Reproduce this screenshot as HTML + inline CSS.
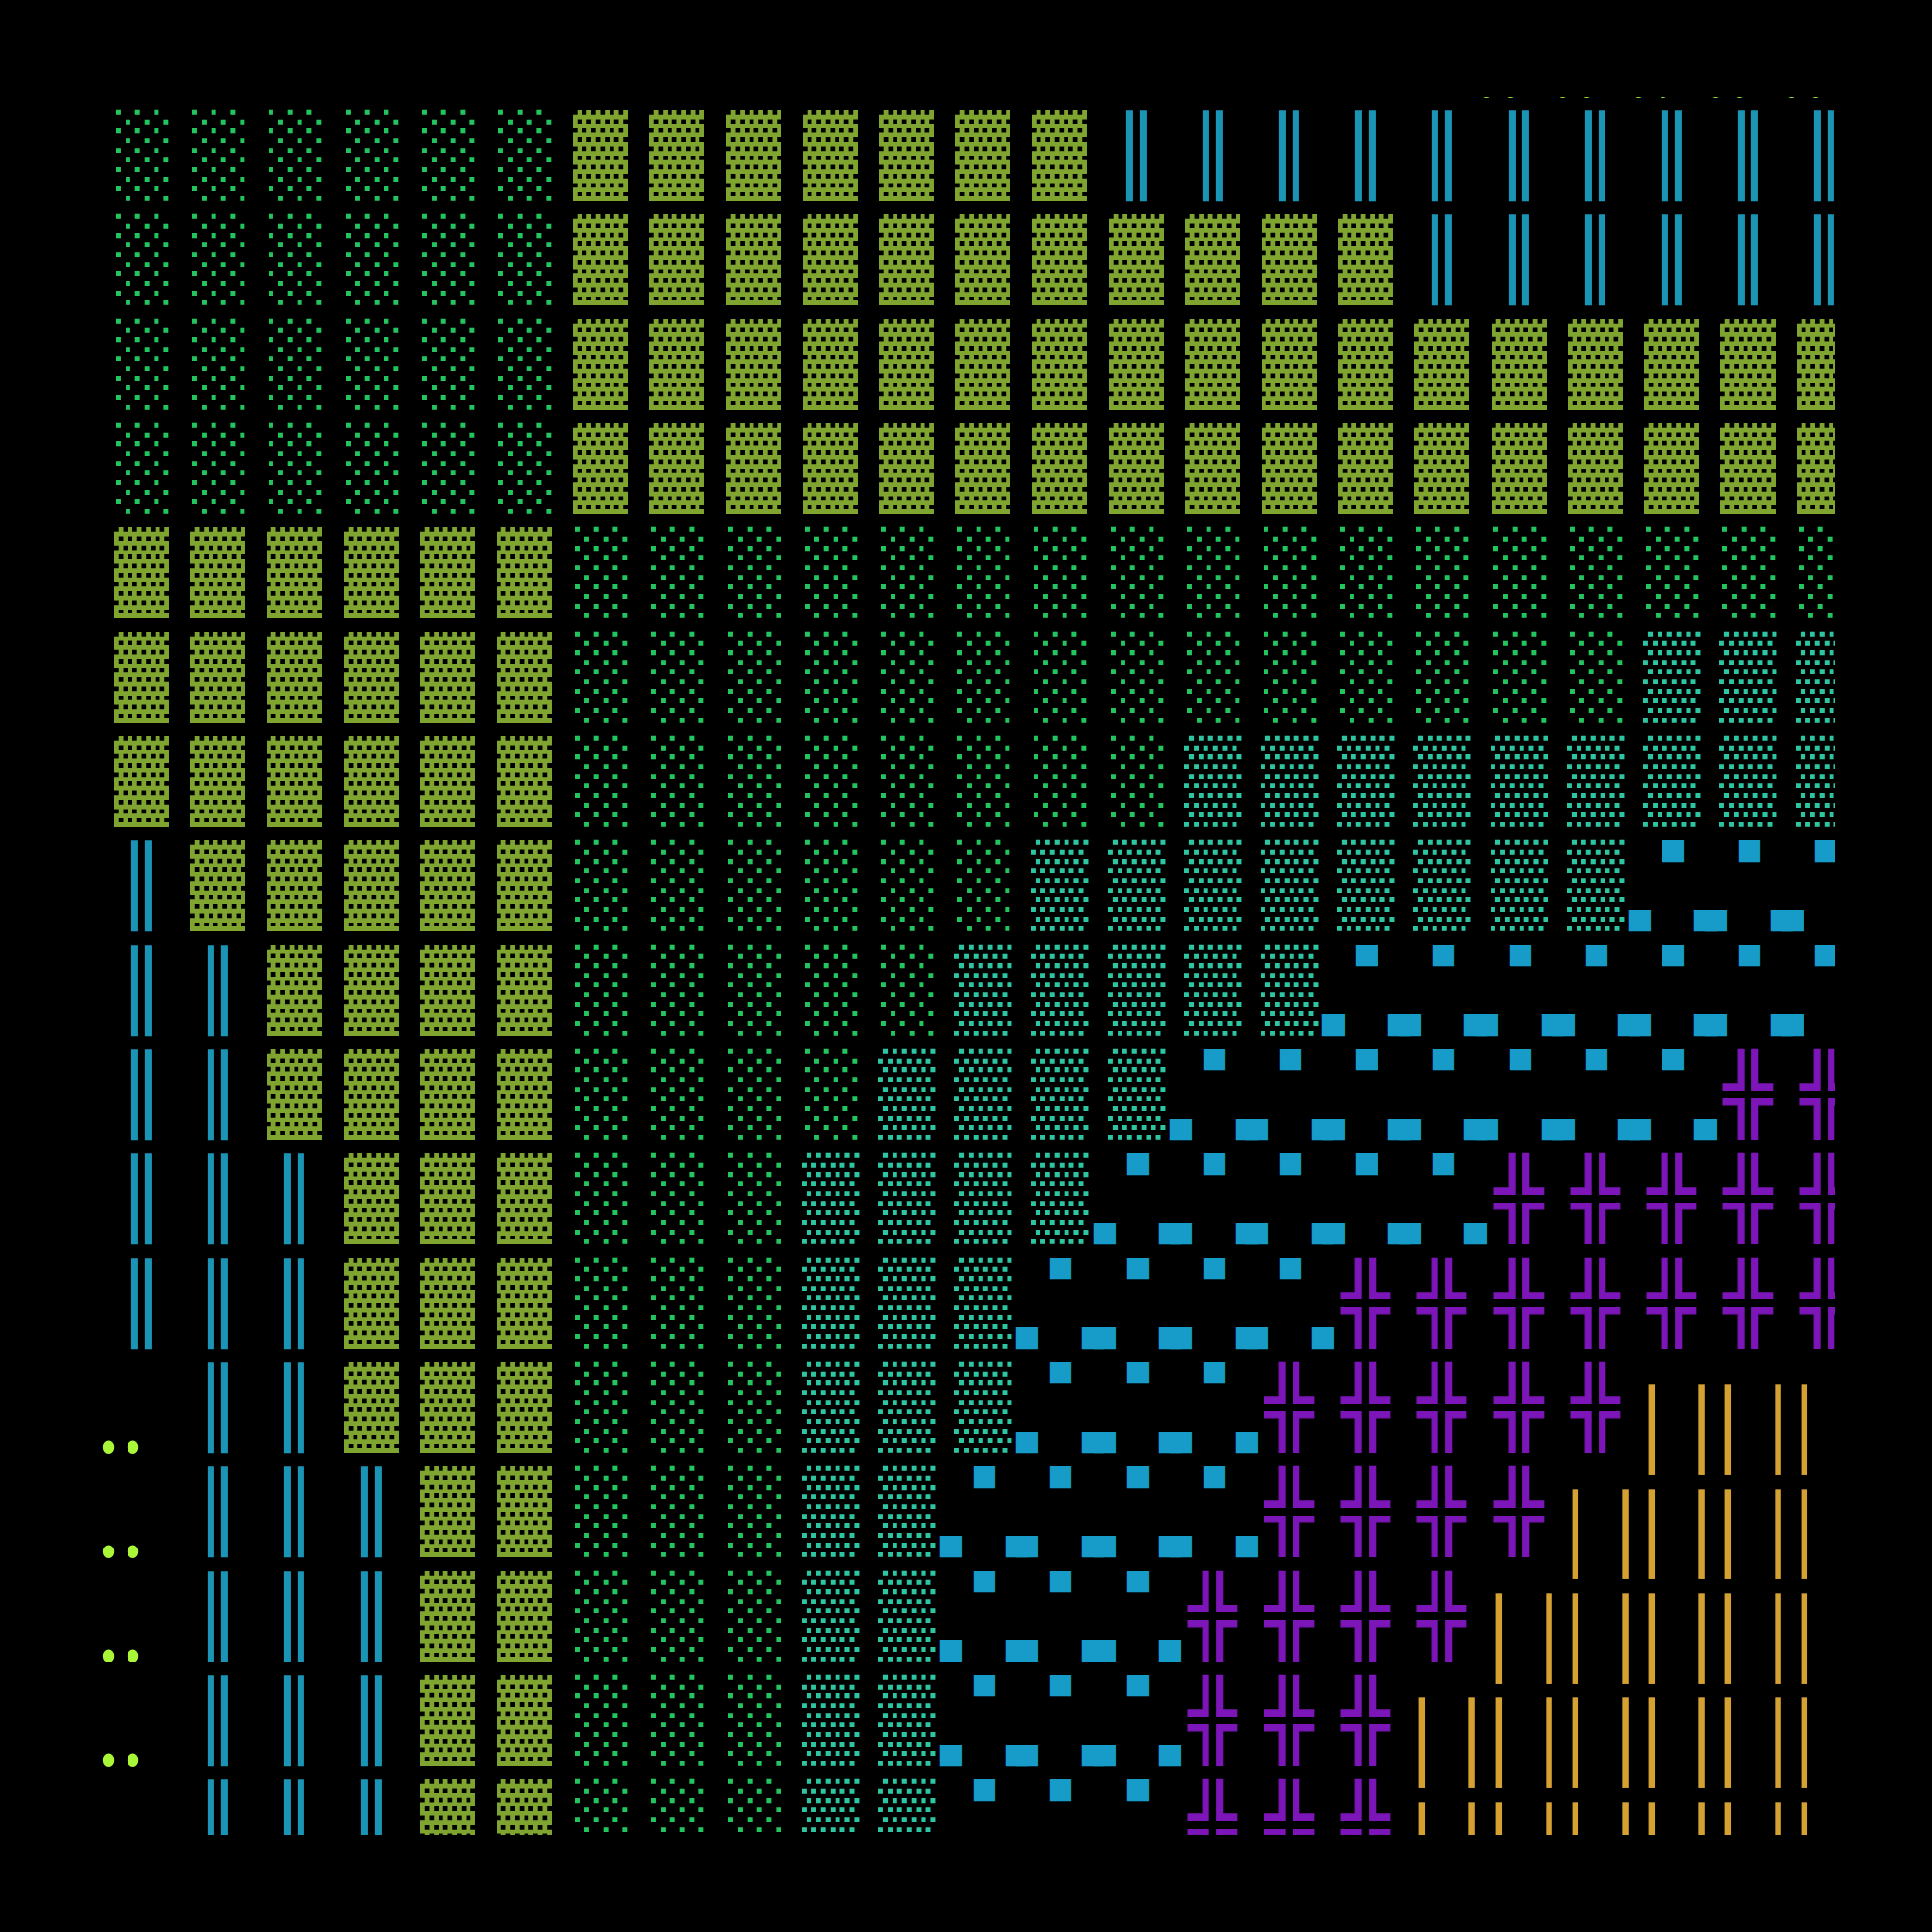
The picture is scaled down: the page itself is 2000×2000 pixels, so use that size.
<!DOCTYPE html>
<html lang="en"><head><meta charset="utf-8"><title>Glyph field</title>
<style>
html,body{margin:0;padding:0;background:#000;width:2000px;height:2000px;overflow:hidden}
#f{position:absolute;left:100px;top:100px;width:1800px;height:1800px;overflow:hidden;background:#000}
#f i{position:absolute;left:0;top:0;display:block;font-style:normal;font-weight:400;line-height:1;white-space:pre;transform-origin:0 0;}
.L{font-family:'Liberation Mono',monospace;font-size:99px;color:#22c55e;transform:translate(var(--x),var(--y)) scale(0.9945,1.0608);clip-path:inset(-10px -2px 15.3px -2px);}
.M{font-family:'Liberation Mono',monospace;font-size:99px;color:#2dc5a2;transform:translate(var(--x),var(--y)) scale(0.9966,1.0608);clip-path:inset(-10px -2px 15.3px -2px);}
.D{font-family:'Liberation Mono',monospace;font-size:99px;color:#7fa530;transform:translate(var(--x),var(--y)) scale(0.9580,1.0070);clip-path:inset(-10px -2px 13.15px -2px);}
.V{font-family:'Liberation Mono',monospace;font-size:79.64px;color:#1b95b5;transform:translate(var(--x),var(--y)) scale(1.0000,1.0251);-webkit-text-stroke:1.361px #1b95b5;text-rendering:geometricPrecision;}
.X{font-family:'Liberation Mono',monospace;font-size:79.3px;color:#7c16b8;transform:translate(var(--x),var(--y)) scale(1.0465,1.1150);-webkit-text-stroke:1.2px #7c16b8;clip-path:inset(-20px -20px 1.43px -20px);text-rendering:geometricPrecision;}
.G{font-family:'Liberation Mono',monospace;font-size:91.1px;color:#d4a132;transform:translate(var(--x),var(--y)) scale(0.9983,0.9075);letter-spacing:-2.76px;}
.Y{font-family:'Liberation Serif',serif;font-size:96.5px;color:#aaf73a;transform:translate(var(--x),var(--y)) scale(0.9973,1.1911);letter-spacing:0.9px;}
.q1{font-family:'Liberation Mono',monospace;font-size:46.3px;color:#179bc8;transform:translate(var(--x),var(--y)) scale(0.9888,0.9956);}
.q2{font-family:'Liberation Mono',monospace;font-size:46.3px;color:#179bc8;transform:translate(var(--x),var(--y)) scale(1.0337,0.9911);}
.q3{font-family:'Liberation Mono',monospace;font-size:46.3px;color:#179bc8;transform:translate(var(--x),var(--y)) scale(1.0337,0.9911);}
</style></head><body><div id="f">
<i class="Y" style="--x:1426.57px;--y:-96.33px">..</i>
<i class="Y" style="--x:1505.57px;--y:-96.33px">..</i>
<i class="Y" style="--x:1584.57px;--y:-96.33px">..</i>
<i class="Y" style="--x:1663.57px;--y:-96.33px">..</i>
<i class="Y" style="--x:1742.57px;--y:-96.33px">..</i>
<i class="L" style="--x:20.00px;--y:21.46px">░</i>
<i class="L" style="--x:99.00px;--y:21.46px">░</i>
<i class="L" style="--x:178.00px;--y:21.46px">░</i>
<i class="L" style="--x:258.00px;--y:21.46px">░</i>
<i class="L" style="--x:337.00px;--y:21.46px">░</i>
<i class="L" style="--x:416.00px;--y:21.46px">░</i>
<i class="D" style="--x:493.00px;--y:21.60px">▓</i>
<i class="D" style="--x:572.00px;--y:21.60px">▓</i>
<i class="D" style="--x:652.00px;--y:21.60px">▓</i>
<i class="D" style="--x:731.00px;--y:21.60px">▓</i>
<i class="D" style="--x:810.00px;--y:21.60px">▓</i>
<i class="D" style="--x:889.00px;--y:21.60px">▓</i>
<i class="D" style="--x:968.00px;--y:21.60px">▓</i>
<i class="V" style="--x:1052.50px;--y:21.48px">║</i>
<i class="V" style="--x:1131.50px;--y:21.48px">║</i>
<i class="V" style="--x:1210.50px;--y:21.48px">║</i>
<i class="V" style="--x:1289.50px;--y:21.48px">║</i>
<i class="V" style="--x:1368.50px;--y:21.48px">║</i>
<i class="V" style="--x:1448.50px;--y:21.48px">║</i>
<i class="V" style="--x:1527.50px;--y:21.48px">║</i>
<i class="V" style="--x:1606.50px;--y:21.48px">║</i>
<i class="V" style="--x:1685.50px;--y:21.48px">║</i>
<i class="V" style="--x:1764.50px;--y:21.48px">║</i>
<i class="L" style="--x:20.00px;--y:129.46px">░</i>
<i class="L" style="--x:99.00px;--y:129.46px">░</i>
<i class="L" style="--x:178.00px;--y:129.46px">░</i>
<i class="L" style="--x:258.00px;--y:129.46px">░</i>
<i class="L" style="--x:337.00px;--y:129.46px">░</i>
<i class="L" style="--x:416.00px;--y:129.46px">░</i>
<i class="D" style="--x:493.00px;--y:129.60px">▓</i>
<i class="D" style="--x:572.00px;--y:129.60px">▓</i>
<i class="D" style="--x:652.00px;--y:129.60px">▓</i>
<i class="D" style="--x:731.00px;--y:129.60px">▓</i>
<i class="D" style="--x:810.00px;--y:129.60px">▓</i>
<i class="D" style="--x:889.00px;--y:129.60px">▓</i>
<i class="D" style="--x:968.00px;--y:129.60px">▓</i>
<i class="D" style="--x:1048.00px;--y:129.60px">▓</i>
<i class="D" style="--x:1127.00px;--y:129.60px">▓</i>
<i class="D" style="--x:1206.00px;--y:129.60px">▓</i>
<i class="D" style="--x:1285.00px;--y:129.60px">▓</i>
<i class="V" style="--x:1368.50px;--y:129.48px">║</i>
<i class="V" style="--x:1448.50px;--y:129.48px">║</i>
<i class="V" style="--x:1527.50px;--y:129.48px">║</i>
<i class="V" style="--x:1606.50px;--y:129.48px">║</i>
<i class="V" style="--x:1685.50px;--y:129.48px">║</i>
<i class="V" style="--x:1764.50px;--y:129.48px">║</i>
<i class="L" style="--x:20.00px;--y:237.46px">░</i>
<i class="L" style="--x:99.00px;--y:237.46px">░</i>
<i class="L" style="--x:178.00px;--y:237.46px">░</i>
<i class="L" style="--x:258.00px;--y:237.46px">░</i>
<i class="L" style="--x:337.00px;--y:237.46px">░</i>
<i class="L" style="--x:416.00px;--y:237.46px">░</i>
<i class="D" style="--x:493.00px;--y:237.60px">▓</i>
<i class="D" style="--x:572.00px;--y:237.60px">▓</i>
<i class="D" style="--x:652.00px;--y:237.60px">▓</i>
<i class="D" style="--x:731.00px;--y:237.60px">▓</i>
<i class="D" style="--x:810.00px;--y:237.60px">▓</i>
<i class="D" style="--x:889.00px;--y:237.60px">▓</i>
<i class="D" style="--x:968.00px;--y:237.60px">▓</i>
<i class="D" style="--x:1048.00px;--y:237.60px">▓</i>
<i class="D" style="--x:1127.00px;--y:237.60px">▓</i>
<i class="D" style="--x:1206.00px;--y:237.60px">▓</i>
<i class="D" style="--x:1285.00px;--y:237.60px">▓</i>
<i class="D" style="--x:1364.00px;--y:237.60px">▓</i>
<i class="D" style="--x:1444.00px;--y:237.60px">▓</i>
<i class="D" style="--x:1523.00px;--y:237.60px">▓</i>
<i class="D" style="--x:1602.00px;--y:237.60px">▓</i>
<i class="D" style="--x:1681.00px;--y:237.60px">▓</i>
<i class="D" style="--x:1760.00px;--y:237.60px">▓</i>
<i class="L" style="--x:20.00px;--y:345.46px">░</i>
<i class="L" style="--x:99.00px;--y:345.46px">░</i>
<i class="L" style="--x:178.00px;--y:345.46px">░</i>
<i class="L" style="--x:258.00px;--y:345.46px">░</i>
<i class="L" style="--x:337.00px;--y:345.46px">░</i>
<i class="L" style="--x:416.00px;--y:345.46px">░</i>
<i class="D" style="--x:493.00px;--y:345.60px">▓</i>
<i class="D" style="--x:572.00px;--y:345.60px">▓</i>
<i class="D" style="--x:652.00px;--y:345.60px">▓</i>
<i class="D" style="--x:731.00px;--y:345.60px">▓</i>
<i class="D" style="--x:810.00px;--y:345.60px">▓</i>
<i class="D" style="--x:889.00px;--y:345.60px">▓</i>
<i class="D" style="--x:968.00px;--y:345.60px">▓</i>
<i class="D" style="--x:1048.00px;--y:345.60px">▓</i>
<i class="D" style="--x:1127.00px;--y:345.60px">▓</i>
<i class="D" style="--x:1206.00px;--y:345.60px">▓</i>
<i class="D" style="--x:1285.00px;--y:345.60px">▓</i>
<i class="D" style="--x:1364.00px;--y:345.60px">▓</i>
<i class="D" style="--x:1444.00px;--y:345.60px">▓</i>
<i class="D" style="--x:1523.00px;--y:345.60px">▓</i>
<i class="D" style="--x:1602.00px;--y:345.60px">▓</i>
<i class="D" style="--x:1681.00px;--y:345.60px">▓</i>
<i class="D" style="--x:1760.00px;--y:345.60px">▓</i>
<i class="D" style="--x:18.00px;--y:453.60px">▓</i>
<i class="D" style="--x:97.00px;--y:453.60px">▓</i>
<i class="D" style="--x:176.00px;--y:453.60px">▓</i>
<i class="D" style="--x:256.00px;--y:453.60px">▓</i>
<i class="D" style="--x:335.00px;--y:453.60px">▓</i>
<i class="D" style="--x:414.00px;--y:453.60px">▓</i>
<i class="L" style="--x:495.00px;--y:453.46px">░</i>
<i class="L" style="--x:574.00px;--y:453.46px">░</i>
<i class="L" style="--x:654.00px;--y:453.46px">░</i>
<i class="L" style="--x:733.00px;--y:453.46px">░</i>
<i class="L" style="--x:812.00px;--y:453.46px">░</i>
<i class="L" style="--x:891.00px;--y:453.46px">░</i>
<i class="L" style="--x:970.00px;--y:453.46px">░</i>
<i class="L" style="--x:1050.00px;--y:453.46px">░</i>
<i class="L" style="--x:1129.00px;--y:453.46px">░</i>
<i class="L" style="--x:1208.00px;--y:453.46px">░</i>
<i class="L" style="--x:1287.00px;--y:453.46px">░</i>
<i class="L" style="--x:1366.00px;--y:453.46px">░</i>
<i class="L" style="--x:1446.00px;--y:453.46px">░</i>
<i class="L" style="--x:1525.00px;--y:453.46px">░</i>
<i class="L" style="--x:1604.00px;--y:453.46px">░</i>
<i class="L" style="--x:1683.00px;--y:453.46px">░</i>
<i class="L" style="--x:1762.00px;--y:453.46px">░</i>
<i class="D" style="--x:18.00px;--y:561.60px">▓</i>
<i class="D" style="--x:97.00px;--y:561.60px">▓</i>
<i class="D" style="--x:176.00px;--y:561.60px">▓</i>
<i class="D" style="--x:256.00px;--y:561.60px">▓</i>
<i class="D" style="--x:335.00px;--y:561.60px">▓</i>
<i class="D" style="--x:414.00px;--y:561.60px">▓</i>
<i class="L" style="--x:495.00px;--y:561.46px">░</i>
<i class="L" style="--x:574.00px;--y:561.46px">░</i>
<i class="L" style="--x:654.00px;--y:561.46px">░</i>
<i class="L" style="--x:733.00px;--y:561.46px">░</i>
<i class="L" style="--x:812.00px;--y:561.46px">░</i>
<i class="L" style="--x:891.00px;--y:561.46px">░</i>
<i class="L" style="--x:970.00px;--y:561.46px">░</i>
<i class="L" style="--x:1050.00px;--y:561.46px">░</i>
<i class="L" style="--x:1129.00px;--y:561.46px">░</i>
<i class="L" style="--x:1208.00px;--y:561.46px">░</i>
<i class="L" style="--x:1287.00px;--y:561.46px">░</i>
<i class="L" style="--x:1366.00px;--y:561.46px">░</i>
<i class="L" style="--x:1446.00px;--y:561.46px">░</i>
<i class="L" style="--x:1525.00px;--y:561.46px">░</i>
<i class="M" style="--x:1601.00px;--y:561.56px">▒</i>
<i class="M" style="--x:1680.00px;--y:561.56px">▒</i>
<i class="M" style="--x:1759.00px;--y:561.56px">▒</i>
<i class="D" style="--x:18.00px;--y:669.60px">▓</i>
<i class="D" style="--x:97.00px;--y:669.60px">▓</i>
<i class="D" style="--x:176.00px;--y:669.60px">▓</i>
<i class="D" style="--x:256.00px;--y:669.60px">▓</i>
<i class="D" style="--x:335.00px;--y:669.60px">▓</i>
<i class="D" style="--x:414.00px;--y:669.60px">▓</i>
<i class="L" style="--x:495.00px;--y:669.46px">░</i>
<i class="L" style="--x:574.00px;--y:669.46px">░</i>
<i class="L" style="--x:654.00px;--y:669.46px">░</i>
<i class="L" style="--x:733.00px;--y:669.46px">░</i>
<i class="L" style="--x:812.00px;--y:669.46px">░</i>
<i class="L" style="--x:891.00px;--y:669.46px">░</i>
<i class="L" style="--x:970.00px;--y:669.46px">░</i>
<i class="L" style="--x:1050.00px;--y:669.46px">░</i>
<i class="M" style="--x:1126.00px;--y:669.56px">▒</i>
<i class="M" style="--x:1205.00px;--y:669.56px">▒</i>
<i class="M" style="--x:1284.00px;--y:669.56px">▒</i>
<i class="M" style="--x:1363.00px;--y:669.56px">▒</i>
<i class="M" style="--x:1443.00px;--y:669.56px">▒</i>
<i class="M" style="--x:1522.00px;--y:669.56px">▒</i>
<i class="M" style="--x:1601.00px;--y:669.56px">▒</i>
<i class="M" style="--x:1680.00px;--y:669.56px">▒</i>
<i class="M" style="--x:1759.00px;--y:669.56px">▒</i>
<i class="V" style="--x:22.50px;--y:777.48px">║</i>
<i class="D" style="--x:97.00px;--y:777.60px">▓</i>
<i class="D" style="--x:176.00px;--y:777.60px">▓</i>
<i class="D" style="--x:256.00px;--y:777.60px">▓</i>
<i class="D" style="--x:335.00px;--y:777.60px">▓</i>
<i class="D" style="--x:414.00px;--y:777.60px">▓</i>
<i class="L" style="--x:495.00px;--y:777.46px">░</i>
<i class="L" style="--x:574.00px;--y:777.46px">░</i>
<i class="L" style="--x:654.00px;--y:777.46px">░</i>
<i class="L" style="--x:733.00px;--y:777.46px">░</i>
<i class="L" style="--x:812.00px;--y:777.46px">░</i>
<i class="L" style="--x:891.00px;--y:777.46px">░</i>
<i class="M" style="--x:967.00px;--y:777.56px">▒</i>
<i class="M" style="--x:1047.00px;--y:777.56px">▒</i>
<i class="M" style="--x:1126.00px;--y:777.56px">▒</i>
<i class="M" style="--x:1205.00px;--y:777.56px">▒</i>
<i class="M" style="--x:1284.00px;--y:777.56px">▒</i>
<i class="M" style="--x:1363.00px;--y:777.56px">▒</i>
<i class="M" style="--x:1443.00px;--y:777.56px">▒</i>
<i class="M" style="--x:1522.00px;--y:777.56px">▒</i>
<i class="q1" style="--x:1618.28px;--y:760.14px">■</i>
<i class="q2" style="--x:1582.98px;--y:832.34px">■</i>
<i class="q3" style="--x:1650.98px;--y:832.34px">■</i>
<i class="q1" style="--x:1697.28px;--y:760.14px">■</i>
<i class="q2" style="--x:1661.98px;--y:832.34px">■</i>
<i class="q3" style="--x:1729.98px;--y:832.34px">■</i>
<i class="q1" style="--x:1776.28px;--y:760.14px">■</i>
<i class="q2" style="--x:1740.98px;--y:832.34px">■</i>
<i class="q3" style="--x:1808.98px;--y:832.34px">■</i>
<i class="V" style="--x:22.50px;--y:885.48px">║</i>
<i class="V" style="--x:101.50px;--y:885.48px">║</i>
<i class="D" style="--x:176.00px;--y:885.60px">▓</i>
<i class="D" style="--x:256.00px;--y:885.60px">▓</i>
<i class="D" style="--x:335.00px;--y:885.60px">▓</i>
<i class="D" style="--x:414.00px;--y:885.60px">▓</i>
<i class="L" style="--x:495.00px;--y:885.46px">░</i>
<i class="L" style="--x:574.00px;--y:885.46px">░</i>
<i class="L" style="--x:654.00px;--y:885.46px">░</i>
<i class="L" style="--x:733.00px;--y:885.46px">░</i>
<i class="L" style="--x:812.00px;--y:885.46px">░</i>
<i class="M" style="--x:888.00px;--y:885.56px">▒</i>
<i class="M" style="--x:967.00px;--y:885.56px">▒</i>
<i class="M" style="--x:1047.00px;--y:885.56px">▒</i>
<i class="M" style="--x:1126.00px;--y:885.56px">▒</i>
<i class="M" style="--x:1205.00px;--y:885.56px">▒</i>
<i class="q1" style="--x:1301.28px;--y:868.14px">■</i>
<i class="q2" style="--x:1265.98px;--y:940.34px">■</i>
<i class="q3" style="--x:1333.98px;--y:940.34px">■</i>
<i class="q1" style="--x:1380.28px;--y:868.14px">■</i>
<i class="q2" style="--x:1344.98px;--y:940.34px">■</i>
<i class="q3" style="--x:1412.98px;--y:940.34px">■</i>
<i class="q1" style="--x:1460.28px;--y:868.14px">■</i>
<i class="q2" style="--x:1424.98px;--y:940.34px">■</i>
<i class="q3" style="--x:1492.98px;--y:940.34px">■</i>
<i class="q1" style="--x:1539.28px;--y:868.14px">■</i>
<i class="q2" style="--x:1503.98px;--y:940.34px">■</i>
<i class="q3" style="--x:1571.98px;--y:940.34px">■</i>
<i class="q1" style="--x:1618.28px;--y:868.14px">■</i>
<i class="q2" style="--x:1582.98px;--y:940.34px">■</i>
<i class="q3" style="--x:1650.98px;--y:940.34px">■</i>
<i class="q1" style="--x:1697.28px;--y:868.14px">■</i>
<i class="q2" style="--x:1661.98px;--y:940.34px">■</i>
<i class="q3" style="--x:1729.98px;--y:940.34px">■</i>
<i class="q1" style="--x:1776.28px;--y:868.14px">■</i>
<i class="q2" style="--x:1740.98px;--y:940.34px">■</i>
<i class="q3" style="--x:1808.98px;--y:940.34px">■</i>
<i class="V" style="--x:22.50px;--y:993.48px">║</i>
<i class="V" style="--x:101.50px;--y:993.48px">║</i>
<i class="D" style="--x:176.00px;--y:993.60px">▓</i>
<i class="D" style="--x:256.00px;--y:993.60px">▓</i>
<i class="D" style="--x:335.00px;--y:993.60px">▓</i>
<i class="D" style="--x:414.00px;--y:993.60px">▓</i>
<i class="L" style="--x:495.00px;--y:993.46px">░</i>
<i class="L" style="--x:574.00px;--y:993.46px">░</i>
<i class="L" style="--x:654.00px;--y:993.46px">░</i>
<i class="L" style="--x:733.00px;--y:993.46px">░</i>
<i class="M" style="--x:809.00px;--y:993.56px">▒</i>
<i class="M" style="--x:888.00px;--y:993.56px">▒</i>
<i class="M" style="--x:967.00px;--y:993.56px">▒</i>
<i class="M" style="--x:1047.00px;--y:993.56px">▒</i>
<i class="q1" style="--x:1143.28px;--y:976.14px">■</i>
<i class="q2" style="--x:1107.98px;--y:1048.34px">■</i>
<i class="q3" style="--x:1175.98px;--y:1048.34px">■</i>
<i class="q1" style="--x:1222.28px;--y:976.14px">■</i>
<i class="q2" style="--x:1186.98px;--y:1048.34px">■</i>
<i class="q3" style="--x:1254.98px;--y:1048.34px">■</i>
<i class="q1" style="--x:1301.28px;--y:976.14px">■</i>
<i class="q2" style="--x:1265.98px;--y:1048.34px">■</i>
<i class="q3" style="--x:1333.98px;--y:1048.34px">■</i>
<i class="q1" style="--x:1380.28px;--y:976.14px">■</i>
<i class="q2" style="--x:1344.98px;--y:1048.34px">■</i>
<i class="q3" style="--x:1412.98px;--y:1048.34px">■</i>
<i class="q1" style="--x:1460.28px;--y:976.14px">■</i>
<i class="q2" style="--x:1424.98px;--y:1048.34px">■</i>
<i class="q3" style="--x:1492.98px;--y:1048.34px">■</i>
<i class="q1" style="--x:1539.28px;--y:976.14px">■</i>
<i class="q2" style="--x:1503.98px;--y:1048.34px">■</i>
<i class="q3" style="--x:1571.98px;--y:1048.34px">■</i>
<i class="q1" style="--x:1618.28px;--y:976.14px">■</i>
<i class="q2" style="--x:1582.98px;--y:1048.34px">■</i>
<i class="q3" style="--x:1650.98px;--y:1048.34px">■</i>
<i class="X" style="--x:1684.49px;--y:993.13px">╬</i>
<i class="X" style="--x:1763.49px;--y:993.13px">╬</i>
<i class="V" style="--x:22.50px;--y:1101.48px">║</i>
<i class="V" style="--x:101.50px;--y:1101.48px">║</i>
<i class="V" style="--x:180.50px;--y:1101.48px">║</i>
<i class="D" style="--x:256.00px;--y:1101.60px">▓</i>
<i class="D" style="--x:335.00px;--y:1101.60px">▓</i>
<i class="D" style="--x:414.00px;--y:1101.60px">▓</i>
<i class="L" style="--x:495.00px;--y:1101.46px">░</i>
<i class="L" style="--x:574.00px;--y:1101.46px">░</i>
<i class="L" style="--x:654.00px;--y:1101.46px">░</i>
<i class="M" style="--x:730.00px;--y:1101.56px">▒</i>
<i class="M" style="--x:809.00px;--y:1101.56px">▒</i>
<i class="M" style="--x:888.00px;--y:1101.56px">▒</i>
<i class="M" style="--x:967.00px;--y:1101.56px">▒</i>
<i class="q1" style="--x:1064.28px;--y:1084.14px">■</i>
<i class="q2" style="--x:1028.98px;--y:1156.34px">■</i>
<i class="q3" style="--x:1096.98px;--y:1156.34px">■</i>
<i class="q1" style="--x:1143.28px;--y:1084.14px">■</i>
<i class="q2" style="--x:1107.98px;--y:1156.34px">■</i>
<i class="q3" style="--x:1175.98px;--y:1156.34px">■</i>
<i class="q1" style="--x:1222.28px;--y:1084.14px">■</i>
<i class="q2" style="--x:1186.98px;--y:1156.34px">■</i>
<i class="q3" style="--x:1254.98px;--y:1156.34px">■</i>
<i class="q1" style="--x:1301.28px;--y:1084.14px">■</i>
<i class="q2" style="--x:1265.98px;--y:1156.34px">■</i>
<i class="q3" style="--x:1333.98px;--y:1156.34px">■</i>
<i class="q1" style="--x:1380.28px;--y:1084.14px">■</i>
<i class="q2" style="--x:1344.98px;--y:1156.34px">■</i>
<i class="q3" style="--x:1412.98px;--y:1156.34px">■</i>
<i class="X" style="--x:1447.49px;--y:1101.13px">╬</i>
<i class="X" style="--x:1526.49px;--y:1101.13px">╬</i>
<i class="X" style="--x:1605.49px;--y:1101.13px">╬</i>
<i class="X" style="--x:1684.49px;--y:1101.13px">╬</i>
<i class="X" style="--x:1763.49px;--y:1101.13px">╬</i>
<i class="V" style="--x:22.50px;--y:1209.48px">║</i>
<i class="V" style="--x:101.50px;--y:1209.48px">║</i>
<i class="V" style="--x:180.50px;--y:1209.48px">║</i>
<i class="D" style="--x:256.00px;--y:1209.60px">▓</i>
<i class="D" style="--x:335.00px;--y:1209.60px">▓</i>
<i class="D" style="--x:414.00px;--y:1209.60px">▓</i>
<i class="L" style="--x:495.00px;--y:1209.46px">░</i>
<i class="L" style="--x:574.00px;--y:1209.46px">░</i>
<i class="L" style="--x:654.00px;--y:1209.46px">░</i>
<i class="M" style="--x:730.00px;--y:1209.56px">▒</i>
<i class="M" style="--x:809.00px;--y:1209.56px">▒</i>
<i class="M" style="--x:888.00px;--y:1209.56px">▒</i>
<i class="q1" style="--x:984.28px;--y:1192.14px">■</i>
<i class="q2" style="--x:948.98px;--y:1264.34px">■</i>
<i class="q3" style="--x:1016.98px;--y:1264.34px">■</i>
<i class="q1" style="--x:1064.28px;--y:1192.14px">■</i>
<i class="q2" style="--x:1028.98px;--y:1264.34px">■</i>
<i class="q3" style="--x:1096.98px;--y:1264.34px">■</i>
<i class="q1" style="--x:1143.28px;--y:1192.14px">■</i>
<i class="q2" style="--x:1107.98px;--y:1264.34px">■</i>
<i class="q3" style="--x:1175.98px;--y:1264.34px">■</i>
<i class="q1" style="--x:1222.28px;--y:1192.14px">■</i>
<i class="q2" style="--x:1186.98px;--y:1264.34px">■</i>
<i class="q3" style="--x:1254.98px;--y:1264.34px">■</i>
<i class="X" style="--x:1288.49px;--y:1209.13px">╬</i>
<i class="X" style="--x:1367.49px;--y:1209.13px">╬</i>
<i class="X" style="--x:1447.49px;--y:1209.13px">╬</i>
<i class="X" style="--x:1526.49px;--y:1209.13px">╬</i>
<i class="X" style="--x:1605.49px;--y:1209.13px">╬</i>
<i class="X" style="--x:1684.49px;--y:1209.13px">╬</i>
<i class="X" style="--x:1763.49px;--y:1209.13px">╬</i>
<i class="Y" style="--x:0.57px;--y:1307.67px">..</i>
<i class="V" style="--x:101.50px;--y:1317.48px">║</i>
<i class="V" style="--x:180.50px;--y:1317.48px">║</i>
<i class="D" style="--x:256.00px;--y:1317.60px">▓</i>
<i class="D" style="--x:335.00px;--y:1317.60px">▓</i>
<i class="D" style="--x:414.00px;--y:1317.60px">▓</i>
<i class="L" style="--x:495.00px;--y:1317.46px">░</i>
<i class="L" style="--x:574.00px;--y:1317.46px">░</i>
<i class="L" style="--x:654.00px;--y:1317.46px">░</i>
<i class="M" style="--x:730.00px;--y:1317.56px">▒</i>
<i class="M" style="--x:809.00px;--y:1317.56px">▒</i>
<i class="M" style="--x:888.00px;--y:1317.56px">▒</i>
<i class="q1" style="--x:984.28px;--y:1300.14px">■</i>
<i class="q2" style="--x:948.98px;--y:1372.34px">■</i>
<i class="q3" style="--x:1016.98px;--y:1372.34px">■</i>
<i class="q1" style="--x:1064.28px;--y:1300.14px">■</i>
<i class="q2" style="--x:1028.98px;--y:1372.34px">■</i>
<i class="q3" style="--x:1096.98px;--y:1372.34px">■</i>
<i class="q1" style="--x:1143.28px;--y:1300.14px">■</i>
<i class="q2" style="--x:1107.98px;--y:1372.34px">■</i>
<i class="q3" style="--x:1175.98px;--y:1372.34px">■</i>
<i class="X" style="--x:1209.49px;--y:1317.13px">╬</i>
<i class="X" style="--x:1288.49px;--y:1317.13px">╬</i>
<i class="X" style="--x:1367.49px;--y:1317.13px">╬</i>
<i class="X" style="--x:1447.49px;--y:1317.13px">╬</i>
<i class="X" style="--x:1526.49px;--y:1317.13px">╬</i>
<i class="G" style="--x:1582.52px;--y:1338.58px">││</i>
<i class="G" style="--x:1661.52px;--y:1338.58px">││</i>
<i class="G" style="--x:1740.52px;--y:1338.58px">││</i>
<i class="Y" style="--x:0.57px;--y:1415.67px">..</i>
<i class="V" style="--x:101.50px;--y:1425.48px">║</i>
<i class="V" style="--x:180.50px;--y:1425.48px">║</i>
<i class="V" style="--x:260.50px;--y:1425.48px">║</i>
<i class="D" style="--x:335.00px;--y:1425.60px">▓</i>
<i class="D" style="--x:414.00px;--y:1425.60px">▓</i>
<i class="L" style="--x:495.00px;--y:1425.46px">░</i>
<i class="L" style="--x:574.00px;--y:1425.46px">░</i>
<i class="L" style="--x:654.00px;--y:1425.46px">░</i>
<i class="M" style="--x:730.00px;--y:1425.56px">▒</i>
<i class="M" style="--x:809.00px;--y:1425.56px">▒</i>
<i class="q1" style="--x:905.28px;--y:1408.14px">■</i>
<i class="q2" style="--x:869.98px;--y:1480.34px">■</i>
<i class="q3" style="--x:937.98px;--y:1480.34px">■</i>
<i class="q1" style="--x:984.28px;--y:1408.14px">■</i>
<i class="q2" style="--x:948.98px;--y:1480.34px">■</i>
<i class="q3" style="--x:1016.98px;--y:1480.34px">■</i>
<i class="q1" style="--x:1064.28px;--y:1408.14px">■</i>
<i class="q2" style="--x:1028.98px;--y:1480.34px">■</i>
<i class="q3" style="--x:1096.98px;--y:1480.34px">■</i>
<i class="q1" style="--x:1143.28px;--y:1408.14px">■</i>
<i class="q2" style="--x:1107.98px;--y:1480.34px">■</i>
<i class="q3" style="--x:1175.98px;--y:1480.34px">■</i>
<i class="X" style="--x:1209.49px;--y:1425.13px">╬</i>
<i class="X" style="--x:1288.49px;--y:1425.13px">╬</i>
<i class="X" style="--x:1367.49px;--y:1425.13px">╬</i>
<i class="X" style="--x:1447.49px;--y:1425.13px">╬</i>
<i class="G" style="--x:1503.52px;--y:1446.58px">││</i>
<i class="G" style="--x:1582.52px;--y:1446.58px">││</i>
<i class="G" style="--x:1661.52px;--y:1446.58px">││</i>
<i class="G" style="--x:1740.52px;--y:1446.58px">││</i>
<i class="Y" style="--x:0.57px;--y:1523.67px">..</i>
<i class="V" style="--x:101.50px;--y:1533.48px">║</i>
<i class="V" style="--x:180.50px;--y:1533.48px">║</i>
<i class="V" style="--x:260.50px;--y:1533.48px">║</i>
<i class="D" style="--x:335.00px;--y:1533.60px">▓</i>
<i class="D" style="--x:414.00px;--y:1533.60px">▓</i>
<i class="L" style="--x:495.00px;--y:1533.46px">░</i>
<i class="L" style="--x:574.00px;--y:1533.46px">░</i>
<i class="L" style="--x:654.00px;--y:1533.46px">░</i>
<i class="M" style="--x:730.00px;--y:1533.56px">▒</i>
<i class="M" style="--x:809.00px;--y:1533.56px">▒</i>
<i class="q1" style="--x:905.28px;--y:1516.14px">■</i>
<i class="q2" style="--x:869.98px;--y:1588.34px">■</i>
<i class="q3" style="--x:937.98px;--y:1588.34px">■</i>
<i class="q1" style="--x:984.28px;--y:1516.14px">■</i>
<i class="q2" style="--x:948.98px;--y:1588.34px">■</i>
<i class="q3" style="--x:1016.98px;--y:1588.34px">■</i>
<i class="q1" style="--x:1064.28px;--y:1516.14px">■</i>
<i class="q2" style="--x:1028.98px;--y:1588.34px">■</i>
<i class="q3" style="--x:1096.98px;--y:1588.34px">■</i>
<i class="X" style="--x:1130.49px;--y:1533.13px">╬</i>
<i class="X" style="--x:1209.49px;--y:1533.13px">╬</i>
<i class="X" style="--x:1288.49px;--y:1533.13px">╬</i>
<i class="X" style="--x:1367.49px;--y:1533.13px">╬</i>
<i class="G" style="--x:1424.52px;--y:1554.58px">││</i>
<i class="G" style="--x:1503.52px;--y:1554.58px">││</i>
<i class="G" style="--x:1582.52px;--y:1554.58px">││</i>
<i class="G" style="--x:1661.52px;--y:1554.58px">││</i>
<i class="G" style="--x:1740.52px;--y:1554.58px">││</i>
<i class="Y" style="--x:0.57px;--y:1631.67px">..</i>
<i class="V" style="--x:101.50px;--y:1641.48px">║</i>
<i class="V" style="--x:180.50px;--y:1641.48px">║</i>
<i class="V" style="--x:260.50px;--y:1641.48px">║</i>
<i class="D" style="--x:335.00px;--y:1641.60px">▓</i>
<i class="D" style="--x:414.00px;--y:1641.60px">▓</i>
<i class="L" style="--x:495.00px;--y:1641.46px">░</i>
<i class="L" style="--x:574.00px;--y:1641.46px">░</i>
<i class="L" style="--x:654.00px;--y:1641.46px">░</i>
<i class="M" style="--x:730.00px;--y:1641.56px">▒</i>
<i class="M" style="--x:809.00px;--y:1641.56px">▒</i>
<i class="q1" style="--x:905.28px;--y:1624.14px">■</i>
<i class="q2" style="--x:869.98px;--y:1696.34px">■</i>
<i class="q3" style="--x:937.98px;--y:1696.34px">■</i>
<i class="q1" style="--x:984.28px;--y:1624.14px">■</i>
<i class="q2" style="--x:948.98px;--y:1696.34px">■</i>
<i class="q3" style="--x:1016.98px;--y:1696.34px">■</i>
<i class="q1" style="--x:1064.28px;--y:1624.14px">■</i>
<i class="q2" style="--x:1028.98px;--y:1696.34px">■</i>
<i class="q3" style="--x:1096.98px;--y:1696.34px">■</i>
<i class="X" style="--x:1130.49px;--y:1641.13px">╬</i>
<i class="X" style="--x:1209.49px;--y:1641.13px">╬</i>
<i class="X" style="--x:1288.49px;--y:1641.13px">╬</i>
<i class="G" style="--x:1344.52px;--y:1662.58px">││</i>
<i class="G" style="--x:1424.52px;--y:1662.58px">││</i>
<i class="G" style="--x:1503.52px;--y:1662.58px">││</i>
<i class="G" style="--x:1582.52px;--y:1662.58px">││</i>
<i class="G" style="--x:1661.52px;--y:1662.58px">││</i>
<i class="G" style="--x:1740.52px;--y:1662.58px">││</i>
<i class="Y" style="--x:0.57px;--y:1739.67px">..</i>
<i class="V" style="--x:101.50px;--y:1749.48px">║</i>
<i class="V" style="--x:180.50px;--y:1749.48px">║</i>
<i class="V" style="--x:260.50px;--y:1749.48px">║</i>
<i class="D" style="--x:335.00px;--y:1749.60px">▓</i>
<i class="D" style="--x:414.00px;--y:1749.60px">▓</i>
<i class="L" style="--x:495.00px;--y:1749.46px">░</i>
<i class="L" style="--x:574.00px;--y:1749.46px">░</i>
<i class="L" style="--x:654.00px;--y:1749.46px">░</i>
<i class="M" style="--x:730.00px;--y:1749.56px">▒</i>
<i class="M" style="--x:809.00px;--y:1749.56px">▒</i>
<i class="q1" style="--x:905.28px;--y:1732.14px">■</i>
<i class="q2" style="--x:869.98px;--y:1804.34px">■</i>
<i class="q3" style="--x:937.98px;--y:1804.34px">■</i>
<i class="q1" style="--x:984.28px;--y:1732.14px">■</i>
<i class="q2" style="--x:948.98px;--y:1804.34px">■</i>
<i class="q3" style="--x:1016.98px;--y:1804.34px">■</i>
<i class="q1" style="--x:1064.28px;--y:1732.14px">■</i>
<i class="q2" style="--x:1028.98px;--y:1804.34px">■</i>
<i class="q3" style="--x:1096.98px;--y:1804.34px">■</i>
<i class="X" style="--x:1130.49px;--y:1749.13px">╬</i>
<i class="X" style="--x:1209.49px;--y:1749.13px">╬</i>
<i class="X" style="--x:1288.49px;--y:1749.13px">╬</i>
<i class="G" style="--x:1344.52px;--y:1770.58px">││</i>
<i class="G" style="--x:1424.52px;--y:1770.58px">││</i>
<i class="G" style="--x:1503.52px;--y:1770.58px">││</i>
<i class="G" style="--x:1582.52px;--y:1770.58px">││</i>
<i class="G" style="--x:1661.52px;--y:1770.58px">││</i>
<i class="G" style="--x:1740.52px;--y:1770.58px">││</i>
</div></body></html>
